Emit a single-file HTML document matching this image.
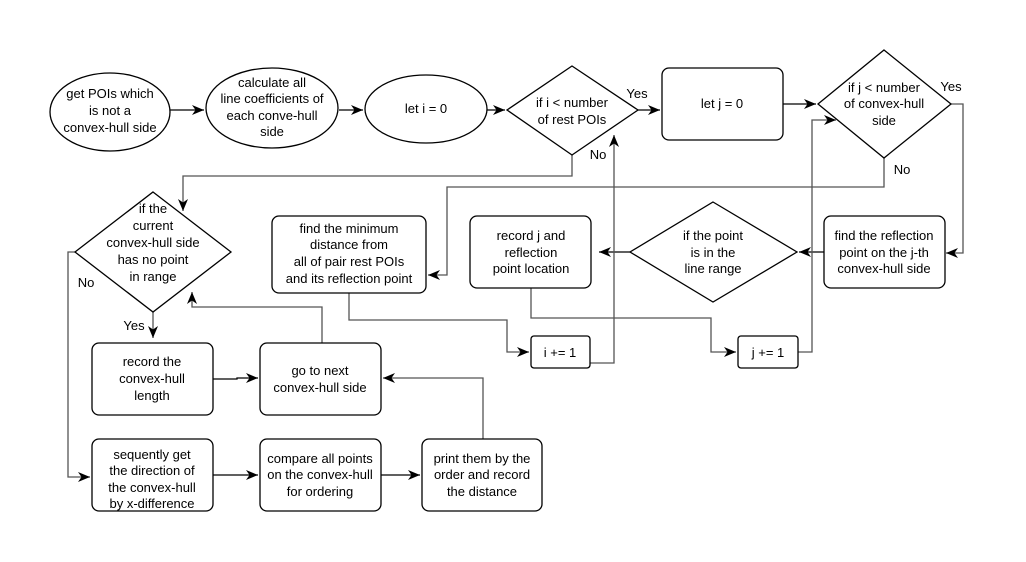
<!DOCTYPE html>
<html><head><meta charset="utf-8"><style>
html,body{margin:0;padding:0;background:#fff;}
svg{display:block;}
text{font-family:"Liberation Sans",sans-serif;font-size:13px;fill:#000;text-anchor:middle;}
.s{fill:#fff;stroke:#000;stroke-width:1.3;}
.l{fill:none;stroke:#555;stroke-width:1.3;}
.k{fill:none;stroke:#000;stroke-width:1.3;}
</style></head><body>
<svg width="1026" height="562" viewBox="0 0 1026 562" xmlns="http://www.w3.org/2000/svg">
<defs><marker id="a" markerWidth="14" markerHeight="14" refX="12" refY="6" orient="auto" markerUnits="userSpaceOnUse"><path d="M0,1 L12,6 L0,11 L3.5,6 Z" fill="#000"/></marker></defs>

<path class="k" d="M170,110 H204" marker-end="url(#a)"/>
<path class="k" d="M339,110 H363" marker-end="url(#a)"/>
<path class="k" d="M487,110 H505" marker-end="url(#a)"/>
<path class="k" d="M638,110 H660" marker-end="url(#a)"/>
<path class="k" d="M783,104 H816" marker-end="url(#a)"/>
<path class="l" d="M951,104 H963 V253 H946" marker-end="url(#a)"/>
<path class="l" d="M572,155 V176 H183 V211" marker-end="url(#a)"/>
<path class="l" d="M884,158 V187 H447 V275 H428" marker-end="url(#a)"/>
<path class="k" d="M824,252 H799" marker-end="url(#a)"/>
<path class="k" d="M630,252 H599" marker-end="url(#a)"/>
<path class="l" d="M349,293 V320 H507 V352 H529" marker-end="url(#a)"/>
<path class="l" d="M531,288 V318 H711 V352 H736" marker-end="url(#a)"/>
<path class="l" d="M590,363 H614 V135" marker-end="url(#a)"/>
<path class="l" d="M798,352 H812 V120 H836" marker-end="url(#a)"/>
<path class="l" d="M75,252 H68 V477 H90" marker-end="url(#a)"/>
<path class="l" d="M153,312 V338" marker-end="url(#a)"/>
<path class="l" d="M322,343 V307 H192 V292" marker-end="url(#a)"/>
<path class="k" d="M213,379 H237 V378 H258" marker-end="url(#a)"/>
<path class="k" d="M213,475 H258" marker-end="url(#a)"/>
<path class="k" d="M381,475 H420" marker-end="url(#a)"/>
<path class="l" d="M483,439 V378 H383" marker-end="url(#a)"/>

<ellipse class="s" cx="110" cy="112" rx="60" ry="39"/>
<ellipse class="s" cx="272" cy="108" rx="66" ry="40"/>
<ellipse class="s" cx="426" cy="109" rx="61" ry="34"/>
<polygon class="s" points="572,66 638,110 572,155 507,110"/>
<rect class="s" x="662" y="68" width="121" height="72" rx="7"/>
<polygon class="s" points="884,50 951,104 884,158 818,104"/>
<polygon class="s" points="153,192 231,252 153,312 75,252"/>
<rect class="s" x="272" y="216" width="154" height="77" rx="7"/>
<rect class="s" x="470" y="216" width="121" height="72" rx="7"/>
<polygon class="s" points="713,202 797,252 713,302 630,252"/>
<rect class="s" x="824" y="216" width="121" height="72" rx="7"/>
<rect class="s" x="531" y="336" width="59" height="32" rx="3"/>
<rect class="s" x="738" y="336" width="60" height="32" rx="3"/>
<rect class="s" x="92" y="343" width="121" height="72" rx="7"/>
<rect class="s" x="260" y="343" width="121" height="72" rx="7"/>
<rect class="s" x="92" y="439" width="121" height="72" rx="7"/>
<rect class="s" x="260" y="439" width="121" height="72" rx="7"/>
<rect class="s" x="422" y="439" width="120" height="72" rx="7"/>

<text x="110" y="98">get POIs which</text>
<text x="110" y="115">is not a</text>
<text x="110" y="132">convex-hull side</text>
<text x="272" y="87">calculate all</text>
<text x="272" y="103">line coefficients of</text>
<text x="272" y="120">each conve-hull</text>
<text x="272" y="136">side</text>
<text x="426" y="113">let i = 0</text>
<text x="572" y="107">if i &lt; number</text>
<text x="572" y="124">of rest POIs</text>
<text x="722" y="108">let j = 0</text>
<text x="884" y="92">if j &lt; number</text>
<text x="884" y="108">of convex-hull</text>
<text x="884" y="125">side</text>
<text x="153" y="213">if the</text>
<text x="153" y="230">current</text>
<text x="153" y="247">convex-hull side</text>
<text x="153" y="264">has no point</text>
<text x="153" y="281">in range</text>
<text x="349" y="233">find the minimum</text>
<text x="349" y="249">distance from</text>
<text x="349" y="266">all of pair rest POIs</text>
<text x="349" y="283">and its reflection point</text>
<text x="531" y="240">record j and</text>
<text x="531" y="257">reflection</text>
<text x="531" y="273">point location</text>
<text x="713" y="240">if the point</text>
<text x="713" y="257">is in the</text>
<text x="713" y="273">line range</text>
<text x="884" y="240">find the reflection</text>
<text x="884" y="257">point on the j-th</text>
<text x="884" y="273">convex-hull side</text>
<text x="560" y="357">i += 1</text>
<text x="768" y="357">j += 1</text>
<text x="152" y="366">record the</text>
<text x="152" y="383">convex-hull</text>
<text x="152" y="400">length</text>
<text x="320" y="375">go to next</text>
<text x="320" y="392">convex-hull side</text>
<text x="152" y="459">sequently get</text>
<text x="152" y="475">the direction of</text>
<text x="152" y="492">the convex-hull</text>
<text x="152" y="508">by x-difference</text>
<text x="320" y="463">compare all points</text>
<text x="320" y="479">on the convex-hull</text>
<text x="320" y="496">for ordering</text>
<text x="482" y="463">print them by the</text>
<text x="482" y="479">order and record</text>
<text x="482" y="496">the distance</text>
<text x="637" y="98">Yes</text>
<text x="598" y="159">No</text>
<text x="951" y="91">Yes</text>
<text x="902" y="174">No</text>
<text x="86" y="287">No</text>
<text x="134" y="330">Yes</text>
</svg>
</body></html>
